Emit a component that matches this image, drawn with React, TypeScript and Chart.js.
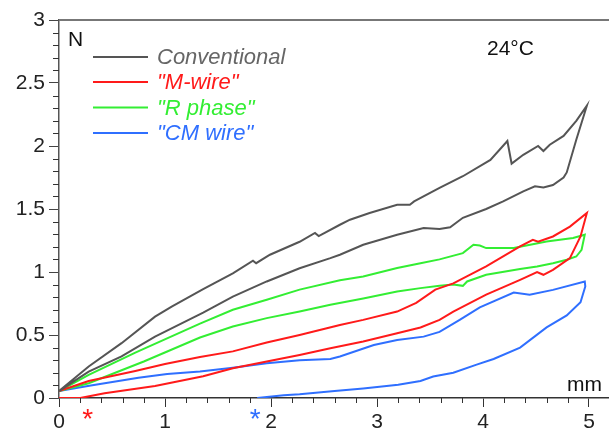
import React, { useEffect, useRef } from "react";
import { Chart, registerables } from "chart.js";

Chart.register(...registerables);

const FONT = "Arial, 'Liberation Sans', Helvetica, sans-serif";

// ---- Data (x in mm, y in N) ----
const seriesNames = ["Conventional", "\"M-wire\"", "\"R phase\"", "\"CM wire\""];
const seriesColors = ["#555555", "#ff1a1a", "#33ee33", "#2f6fff"];

const conventionalLoading: [number, number][] = [
  [0, 0.055], [0.28, 0.25], [0.59, 0.435], [0.906, 0.646], [1.063, 0.726], [1.36, 0.864],
  [1.64, 0.99], [1.83, 1.09], [1.86, 1.07], [1.99, 1.137], [2.27, 1.24], [2.415, 1.31],
  [2.45, 1.285], [2.65, 1.375], [2.745, 1.415], [2.93, 1.468], [3.19, 1.534], [3.31, 1.534],
  [3.35, 1.56], [3.59, 1.667], [3.81, 1.76], [4.07, 1.89], [4.23, 2.04], [4.27, 1.86],
  [4.38, 1.93], [4.52, 2.0], [4.57, 1.96], [4.63, 2.01], [4.76, 2.08], [4.88, 2.2], [4.98, 2.32],
];
const conventionalUnloading: [number, number][] = [
  [4.98, 2.32], [4.88, 2.05], [4.79, 1.79], [4.76, 1.75], [4.66, 1.69], [4.57, 1.67],
  [4.49, 1.68], [4.38, 1.64], [4.19, 1.56], [4.03, 1.5], [3.81, 1.43], [3.69, 1.355],
  [3.59, 1.341], [3.44, 1.349], [3.19, 1.296], [2.87, 1.216], [2.65, 1.137], [2.56, 1.11],
  [2.27, 1.03], [1.96, 0.925], [1.64, 0.805], [1.36, 0.678], [0.906, 0.487], [0.59, 0.33],
  [0.28, 0.21], [0, 0.055],
];

const mWireLoading: [number, number][] = [
  [0, 0.055], [0.28, 0.135], [0.72, 0.215], [1.0, 0.27], [1.33, 0.325], [1.64, 0.37],
  [1.96, 0.44], [2.27, 0.5], [2.65, 0.58], [2.87, 0.62], [3.19, 0.686], [3.37, 0.755],
  [3.55, 0.86], [3.72, 0.91], [4.03, 1.044], [4.35, 1.203], [4.47, 1.256], [4.52, 1.24],
  [4.66, 1.282], [4.82, 1.36], [4.98, 1.468],
];
const mWireUnloading: [number, number][] = [
  [4.98, 1.468], [4.92, 1.282], [4.82, 1.11], [4.66, 1.017], [4.57, 0.978], [4.51, 1.0],
  [4.35, 0.938], [4.03, 0.82], [3.72, 0.686], [3.59, 0.62], [3.41, 0.56], [3.19, 0.514],
  [2.87, 0.448], [2.56, 0.395], [2.27, 0.342], [1.96, 0.29], [1.64, 0.236], [1.36, 0.172],
  [0.906, 0.095], [0.43, 0.037], [0.2, 0.0], [0, 0.0],
];

const rPhaseLoading: [number, number][] = [
  [0, 0.055], [0.28, 0.183], [0.72, 0.36], [1.33, 0.59], [1.64, 0.7], [1.96, 0.78],
  [2.27, 0.86], [2.65, 0.935], [2.87, 0.964], [3.19, 1.031], [3.41, 1.07], [3.59, 1.1],
  [3.81, 1.15], [3.91, 1.216], [3.97, 1.21], [4.03, 1.19], [4.29, 1.19], [4.6, 1.242],
  [4.85, 1.27], [4.96, 1.296],
];
const rPhaseUnloading: [number, number][] = [
  [4.96, 1.296], [4.93, 1.176], [4.88, 1.123], [4.79, 1.097], [4.66, 1.07], [4.51, 1.044],
  [4.35, 1.023], [4.03, 0.978], [3.85, 0.925], [3.81, 0.89], [3.72, 0.9], [3.59, 0.89],
  [3.41, 0.872], [3.19, 0.845], [2.87, 0.79], [2.56, 0.74], [2.27, 0.686], [1.96, 0.634],
  [1.64, 0.567], [1.33, 0.48], [0.8, 0.29], [0.28, 0.117], [0, 0.055],
];

const cmWireLoading: [number, number][] = [
  [0, 0.055], [0.3, 0.1], [0.75, 0.16], [1.02, 0.19], [1.33, 0.21], [1.64, 0.24],
  [1.96, 0.276], [2.27, 0.3], [2.56, 0.31], [2.65, 0.33], [2.97, 0.42], [3.19, 0.461],
  [3.44, 0.487], [3.59, 0.525], [3.78, 0.62], [3.97, 0.72], [4.29, 0.837], [4.44, 0.82],
  [4.66, 0.858], [4.96, 0.925],
];
const cmWireUnloading: [number, number][] = [
  [4.96, 0.925], [4.965, 0.885], [4.92, 0.76], [4.79, 0.655], [4.6, 0.56], [4.35, 0.4],
  [4.1, 0.31], [3.94, 0.265], [3.72, 0.2], [3.53, 0.17], [3.41, 0.135], [3.2, 0.105],
  [2.87, 0.075], [2.6, 0.055], [2.27, 0.03], [2.12, 0.022], [1.87, 0.0],
];

const xTickValues = [0, 1, 2, 3, 4, 5];
const yTickValues = [0, 0.5, 1, 1.5, 2, 2.5, 3];
const asteriskPositions: [number, string][] = [[0.27, "#ff1a1a"], [1.85, "#2f6fff"]];

const loops = [
  [conventionalLoading, conventionalUnloading],
  [mWireLoading, mWireUnloading],
  [rPhaseLoading, rPhaseUnloading],
  [cmWireLoading, cmWireUnloading],
];

function minorTicks(max: number, step: number, major: number) {
  const out: number[] = [];
  for (let i = 1; i * step <= max + 1e-9; i++) {
    const v = +(i * step).toFixed(4);
    if (Math.abs(v / major - Math.round(v / major)) > 1e-6) out.push(v);
  }
  return out;
}

const decorPlugin = {
  id: "decor",
  afterDraw(chart: any) {
    const ctx: CanvasRenderingContext2D = chart.ctx;
    const { left, right, top, bottom } = chart.chartArea;
    const xs = chart.scales.x;
    const ys = chart.scales.y;
    ctx.save();
    // top frame line
    ctx.strokeStyle = "#777";
    ctx.lineWidth = 2;
    ctx.beginPath();
    ctx.moveTo(left, top);
    ctx.lineTo(right, top);
    ctx.stroke();
    // minor ticks
    ctx.strokeStyle = "#333";
    ctx.lineWidth = 1;
    ctx.beginPath();
    for (const v of minorTicks(5.1, 0.2, 1)) {
      const px = Math.round(xs.getPixelForValue(v)) + 0.5;
      ctx.moveTo(px, bottom);
      ctx.lineTo(px, bottom + 5);
    }
    for (const v of minorTicks(3, 0.1, 0.5)) {
      const py = Math.round(ys.getPixelForValue(v)) + 0.5;
      ctx.moveTo(left - 6, py);
      ctx.lineTo(left, py);
    }
    ctx.stroke();

    // legend
    const rows = [57, 82, 107.5, 133];
    ctx.font = `italic 22px ${FONT}`;
    ctx.textBaseline = "middle";
    ctx.textAlign = "left";
    seriesNames.forEach((name, i) => {
      ctx.strokeStyle = seriesColors[i];
      ctx.lineWidth = 2;
      ctx.beginPath();
      ctx.moveTo(93, rows[i]);
      ctx.lineTo(148, rows[i]);
      ctx.stroke();
      ctx.fillStyle = i === 0 ? "#666" : seriesColors[i];
      ctx.fillText(name, 157, rows[i] + 1);
    });

    // annotations
    ctx.fillStyle = "#111";
    ctx.font = `21px ${FONT}`;
    ctx.fillText("N", 68, 40);
    ctx.fillText("24\u00B0C", 487, 49);
    ctx.fillText("mm", 567, 385);

    ctx.font = `28px ${FONT}`;
    ctx.textAlign = "center";
    ctx.textBaseline = "alphabetic";
    for (const [v, c] of asteriskPositions) {
      ctx.fillStyle = c;
      ctx.fillText("*", xs.getPixelForValue(v), 428);
    }
    ctx.restore();
  },
};

export default function App() {
  const ref = useRef<HTMLCanvasElement>(null);
  useEffect(() => {
    document.body.style.margin = "0";
    const datasets = loops.map(([up, down], i) => ({
      label: seriesNames[i],
      data: [...up, ...down].map(([x, y]) => ({ x, y })),
      borderColor: seriesColors[i],
      backgroundColor: seriesColors[i],
      borderWidth: 2,
      pointRadius: 0,
      showLine: true,
      tension: 0,
      fill: false,
    }));
    const chart = new Chart(ref.current as HTMLCanvasElement, {
      type: "scatter",
      data: { datasets },
      plugins: [decorPlugin],
      options: {
        responsive: false,
        animation: false,
        devicePixelRatio: 1,
        layout: { padding: { top: 20, right: 0, left: 0, bottom: 0 } },
        plugins: { legend: { display: false }, tooltip: { enabled: false } },
        scales: {
          x: {
            type: "linear",
            min: 0,
            max: 550 / 106,
            afterFit: (s: any) => { s.height = 34; },
            afterBuildTicks: (s: any) => { s.ticks = xTickValues.map((value) => ({ value })); },
            ticks: {
              font: { family: FONT, size: 21 },
              color: "#222",
              padding: 3,
              maxRotation: 0,
              autoSkip: false,
              callback: (v: any) => String(v),
            },
            grid: { drawOnChartArea: false, drawTicks: true, tickLength: 9, color: "#333", lineWidth: 1 },
            border: { display: true, color: "#333", width: 1.5 },
          },
          y: {
            type: "linear",
            min: 0,
            max: 3,
            afterFit: (s: any) => { s.width = 59; },
            afterBuildTicks: (s: any) => { s.ticks = yTickValues.map((value) => ({ value })); },
            ticks: {
              font: { family: FONT, size: 21 },
              color: "#222",
              padding: 4,
              autoSkip: false,
              callback: (v: any) => String(v),
            },
            grid: { drawOnChartArea: false, drawTicks: true, tickLength: 10, color: "#444", lineWidth: 1 },
            border: { display: true, color: "#555", width: 1.5 },
          },
        },
      },
    } as any);
    return () => chart.destroy();
  }, []);
  return (
    <div style={{ position: "absolute", left: 0, top: 0, width: 609, height: 432, background: "#fff" }}>
      <canvas ref={ref} width={609} height={432} style={{ display: "block", width: 609, height: 432 }} />
    </div>
  );
}
